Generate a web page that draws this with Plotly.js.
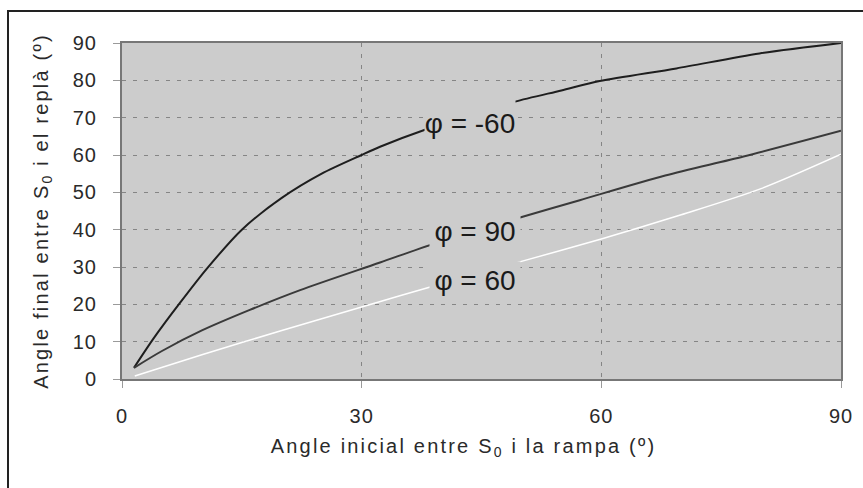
<!DOCTYPE html>
<html><head><meta charset="utf-8">
<script src="https://cdn.plot.ly/plotly-3.0.1.min.js"></script>
<style>
html,body{margin:0;padding:0;overflow:hidden;background:#fff;width:863px;height:488px}
#chart{width:863px;height:488px;position:absolute;left:0;top:0}
#frame{position:absolute;left:7px;top:10px;width:1000px;height:1000px;border:2px solid #222;pointer-events:none}
#chart .xtitle{letter-spacing:2.2px;transform:translateX(-18px)}
#chart .ytitle{letter-spacing:2.2px}
#chart .xtick text, #chart .ytick text{letter-spacing:1px}
</style></head><body>
<div id="chart"></div><div id="frame"></div>
<script>
// phi = -60 (black)
const xPhiMinus60 = [1.5, 4, 7.3, 10.6, 15, 20, 25, 30, 32.3, 38.1, 45, 49.2, 55, 59.8, 69.4, 79.8, 90];
const yPhiMinus60 = [3, 11, 20.5, 29.5, 40, 48.5, 55, 60, 62.2, 66.9, 71.5, 74.3, 77.3, 79.8, 83.2, 87.2, 90];
// phi = 90 (dark gray)
const xPhi90 = [1.5, 5, 10, 16, 22.3, 32.3, 39, 49.4, 57.3, 68, 77.8, 90];
const yPhi90 = [3, 7.5, 13, 18.5, 23.8, 31.2, 36.2, 43.0, 47.9, 54.5, 59.6, 66.5];
// phi = 60 (white)
const xPhi60 = [1.6, 10, 20, 30, 40, 50, 60, 70, 80, 90];
const yPhi60 = [0.8, 6.5, 13, 19.3, 25.5, 31.5, 37.5, 44, 51, 60.2];

const xTicks = [0, 30, 60, 90];
const yTicks = [0, 10, 20, 30, 40, 50, 60, 70, 80, 90];

const labelTexts = ['φ = -60', 'φ = 90', 'φ = 60'];
const labelX = [43.5, 44.2, 44.2];
const labelY = [68.6, 39.6, 26.4];

const traces = [
  {x: xPhiMinus60, y: yPhiMinus60, mode: 'lines', line: {color: '#1e1e1e', width: 2, shape: 'spline', smoothing: 0.8}, name: labelTexts[0]},
  {x: xPhi90, y: yPhi90, mode: 'lines', line: {color: '#3a3a3a', width: 2, shape: 'spline', smoothing: 0.8}, name: labelTexts[1]},
  {x: xPhi60, y: yPhi60, mode: 'lines', line: {color: '#ffffff', width: 1.5, shape: 'spline', smoothing: 0.8}, name: labelTexts[2]}
];

const heights = [46, 36, 36];
const annotations = labelTexts.map((t, i) => ({
  x: labelX[i], y: labelY[i], xref: 'x', yref: 'y', text: t, showarrow: false,
  font: {family: 'Liberation Sans, Arial, sans-serif', size: 28, color: '#1a1a1a'},
  bgcolor: '#cccccc', width: 90, height: heights[i], borderpad: 0, align: 'center', valign: 'middle'
}));

const layout = {
  width: 863, height: 488,
  margin: {l: 122, r: 22, t: 43, b: 109},
  paper_bgcolor: '#ffffff',
  plot_bgcolor: '#cccccc',
  showlegend: false,
  font: {family: 'Liberation Sans, Arial, sans-serif', color: '#2a2a2a'},
  xaxis: {
    range: [0, 90], tickvals: xTicks, ticktext: xTicks.map(String),
    showgrid: true, gridcolor: '#858585', griddash: '4px,7px', gridwidth: 1,
    zeroline: false, showline: true, mirror: true, linecolor: '#777777', linewidth: 2,
    ticks: 'outside', ticklen: 7, tickcolor: '#9a9a9a', tickwidth: 1,
    ticklabelstandoff: 11,
    tickfont: {size: 20, color: '#2a2a2a'},
    title: {text: 'Angle inicial entre S<sub>0</sub> i la rampa (º)', font: {size: 20, color: '#2a2a2a'}, standoff: 13}
  },
  yaxis: {
    range: [0, 90], tickvals: yTicks, ticktext: yTicks.map(String),
    showgrid: true, gridcolor: '#858585', griddash: '4px,7px', gridwidth: 1,
    zeroline: false, showline: true, mirror: true, linecolor: '#777777', linewidth: 2,
    ticks: 'outside', ticklen: 7, tickcolor: '#9a9a9a', tickwidth: 1,
    ticklabelstandoff: 12,
    tickfont: {size: 20, color: '#2a2a2a'},
    title: {text: 'Angle final entre S<sub>0</sub> i el replà (º)', font: {size: 20, color: '#2a2a2a'}, standoff: 21}
  },
  annotations: annotations
};

Plotly.newPlot('chart', traces, layout, {displayModeBar: false, staticPlot: true});
</script>
</body></html>
